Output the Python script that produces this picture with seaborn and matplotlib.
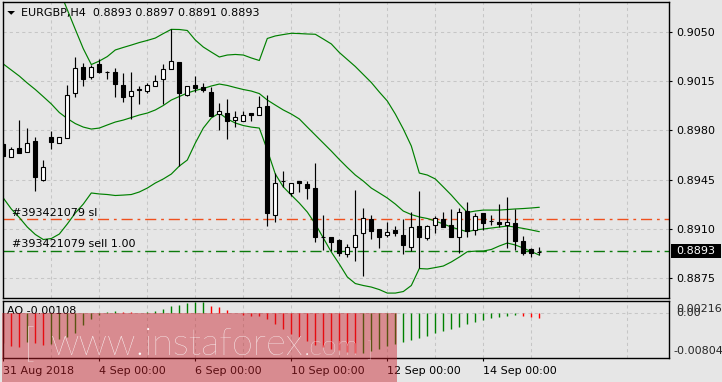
import numpy as np
import pandas as pd
import matplotlib
matplotlib.use("Agg")
import matplotlib.pyplot as plt
import seaborn as sns
from matplotlib.patches import Rectangle, Polygon

# ---------------- data ----------------
open_ = [0.89703, 0.89613, 0.89672, 0.89644, 0.89722, 0.89447, 0.89751, 0.89713, 0.89744, 0.90065,
         0.90250, 0.90184, 0.90272, 0.90215, 0.90219, 0.90122, 0.90046, 0.90093, 0.90084, 0.90115,
         0.90165, 0.90241, 0.90288, 0.90050, 0.90122, 0.90112, 0.90074, 0.89917, 0.89922, 0.89872,
         0.89870, 0.89922, 0.89913, 0.89974, 0.89194, 0.89437, 0.89351, 0.89437, 0.89418, 0.89387,
         0.89038, 0.89042, 0.89019, 0.88919, 0.88966, 0.89066, 0.89166, 0.89095, 0.89052, 0.89090,
         0.89054, 0.88971, 0.89118, 0.89035, 0.89128, 0.89166, 0.89126, 0.89038, 0.89223, 0.89092,
         0.89211, 0.89152, 0.89147, 0.89123, 0.89140, 0.89012, 0.88952, 0.88930]
high = [0.89713, 0.89684, 0.89874, 0.89815, 0.89751, 0.89589, 0.89796, 0.89756, 0.90124, 0.90326,
        0.90279, 0.90267, 0.90307, 0.90226, 0.90243, 0.90207, 0.90219, 0.90117, 0.90136, 0.90195,
        0.90274, 0.90521, 0.90288, 0.90115, 0.90188, 0.90141, 0.90112, 0.89998, 0.90024, 0.89941,
        0.89941, 0.89924, 0.90046, 0.90053, 0.89494, 0.89511, 0.89423, 0.89440, 0.89437, 0.89565,
        0.89197, 0.89042, 0.89023, 0.88990, 0.89375, 0.89247, 0.89197, 0.89095, 0.89147, 0.89118,
        0.89166, 0.89221, 0.89368, 0.89126, 0.89190, 0.89218, 0.89237, 0.89247, 0.89292, 0.89209,
        0.89211, 0.89194, 0.89275, 0.89323, 0.89237, 0.89050, 0.88964, 0.88970]
low = [0.89613, 0.89613, 0.89637, 0.89644, 0.89370, 0.89442, 0.89670, 0.89708, 0.89744, 0.90041,
       0.90119, 0.90169, 0.90212, 0.90165, 0.90041, 0.90005, 0.89884, 0.89986, 0.90065, 0.90115,
       0.89989, 0.90236, 0.89549, 0.90046, 0.90077, 0.90072, 0.89903, 0.89803, 0.89737, 0.89822,
       0.89870, 0.89870, 0.89908, 0.89121, 0.89149, 0.89399, 0.89332, 0.89363, 0.89313, 0.89007,
       0.88947, 0.88942, 0.88904, 0.88900, 0.88871, 0.88764, 0.89023, 0.88964, 0.89042, 0.89047,
       0.88919, 0.88938, 0.88816, 0.89019, 0.89071, 0.89114, 0.89042, 0.88923, 0.89042, 0.89052,
       0.89090, 0.89123, 0.89114, 0.88959, 0.88947, 0.88912, 0.88895, 0.88910]
close = [0.89618, 0.89665, 0.89637, 0.89713, 0.89466, 0.89537, 0.89720, 0.89751, 0.90050, 0.90243,
         0.90169, 0.90250, 0.90217, 0.90214, 0.90134, 0.90041, 0.90084, 0.90092, 0.90122, 0.90150,
         0.90236, 0.90293, 0.90065, 0.90115, 0.90103, 0.90086, 0.89903, 0.89936, 0.89865, 0.89893,
         0.89908, 0.89910, 0.89965, 0.89209, 0.89423, 0.89436, 0.89423, 0.89423, 0.89392, 0.89042,
         0.89037, 0.89007, 0.88923, 0.88971, 0.89052, 0.89173, 0.89085, 0.89042, 0.89073, 0.89066,
         0.88985, 0.89109, 0.89042, 0.89116, 0.89173, 0.89114, 0.89042, 0.89216, 0.89085, 0.89187,
         0.89142, 0.89151, 0.89135, 0.89147, 0.89014, 0.88923, 0.88923, 0.88930]

bb_upper = [0.91408, 0.91372, 0.91337, 0.91265, 0.91194, 0.91087, 0.90944, 0.90802, 0.90661, 0.90521,
            0.90383, 0.90270, 0.90295, 0.90327, 0.90374, 0.90392, 0.90409, 0.90427, 0.90442, 0.90459,
            0.90491, 0.90521, 0.90520, 0.90513, 0.90445, 0.90395, 0.90359, 0.90324, 0.90338, 0.90342,
            0.90338, 0.90317, 0.90299, 0.90456, 0.90474, 0.90484, 0.90493, 0.90491, 0.90488, 0.90486,
            0.90452, 0.90417, 0.90356, 0.90306, 0.90256, 0.90199, 0.90142, 0.90074, 0.90010, 0.89917,
            0.89810, 0.89689, 0.89496, 0.89482, 0.89454, 0.89397, 0.89339, 0.89275, 0.89215, 0.89225,
            0.89232, 0.89232, 0.89232, 0.89236, 0.89240, 0.89243, 0.89247, 0.89252]
bb_middle = [0.90274, 0.90231, 0.90188, 0.90138, 0.90092, 0.90041, 0.89989, 0.89928, 0.89885, 0.89849,
             0.89824, 0.89810, 0.89817, 0.89839, 0.89860, 0.89874, 0.89892, 0.89910, 0.89924, 0.89946,
             0.89978, 0.90017, 0.90042, 0.90067, 0.90085, 0.90099, 0.90117, 0.90131, 0.90121, 0.90106,
             0.90092, 0.90081, 0.90063, 0.90017, 0.89981, 0.89946, 0.89917, 0.89882, 0.89824, 0.89767,
             0.89710, 0.89653, 0.89593, 0.89536, 0.89482, 0.89439, 0.89389, 0.89354, 0.89318, 0.89275,
             0.89225, 0.89200, 0.89183, 0.89172, 0.89154, 0.89133, 0.89111, 0.89093, 0.89078, 0.89090,
             0.89097, 0.89104, 0.89111, 0.89118, 0.89111, 0.89101, 0.89090, 0.89078]
bb_lower = [0.89318, 0.89240, 0.89179, 0.89111, 0.89058, 0.89022, 0.89029, 0.89061, 0.89133, 0.89211,
            0.89275, 0.89354, 0.89347, 0.89343, 0.89336, 0.89339, 0.89343, 0.89361, 0.89389, 0.89425,
            0.89454, 0.89489, 0.89546, 0.89589, 0.89710, 0.89817, 0.89889, 0.89924, 0.89882, 0.89853,
            0.89835, 0.89824, 0.89817, 0.89660, 0.89489, 0.89397, 0.89339, 0.89282, 0.89218, 0.89133,
            0.89033, 0.88933, 0.88847, 0.88755, 0.88708, 0.88694, 0.88683, 0.88665, 0.88640, 0.88640,
            0.88651, 0.88694, 0.88815, 0.88812, 0.88822, 0.88833, 0.88862, 0.88897, 0.88935, 0.88939,
            0.88940, 0.88951, 0.88976, 0.88997, 0.88983, 0.88961, 0.88936, 0.88911]

ao_values = [-0.0060, -0.0066, -0.0067, -0.0058, -0.0060, -0.0064, -0.0061, -0.0052, -0.0048, -0.0041,
             -0.0024, -0.0013, -0.0004, 0.0002, 0.0003, 0.0002, 0.0001, 0.00005, 0.0001, 0.0004,
             0.0008, 0.0014, 0.0016, 0.0019, 0.0021, 0.00216, 0.0013, 0.0012, 0.0006, -0.0001,
             -0.0004, -0.0006, -0.0007, -0.0013, -0.0023, -0.0032, -0.0042, -0.0049, -0.0056, -0.0063,
             -0.0068, -0.0071, -0.0074, -0.0077, -0.00804, -0.0079, -0.0076, -0.0071, -0.0066, -0.0061,
             -0.0058, -0.0054, -0.0051, -0.0046, -0.0041, -0.0036, -0.0032, -0.0028, -0.0023, -0.0019,
             -0.0015, -0.0011, -0.0008, -0.0006, -0.0004, -0.0006, -0.0008, -0.00108]

time_labels = ["31 Aug 2018", "4 Sep 00:00", "6 Sep 00:00", "10 Sep 00:00", "12 Sep 00:00", "14 Sep 00:00"]
time_label_bars = [0, 12, 24, 36, 48, 60]
price_ticks = [0.9050, 0.9015, 0.8980, 0.8945, 0.8910, 0.8875]
ao_axis_labels = ["0.00216", "0.00", "-0.00804"]
sl_price = 0.89166
sell_price = 0.88940
bid_price = 0.8893
title_text = "EURGBP,H4  0.8893 0.8897 0.8891 0.8893"
ao_text = "AO -0.00108"
sl_text = "#393421079 sl"
sell_text = "#393421079 sell 1.00"

# ---------------- style ----------------
sns.set_theme(style="white")
plt.rcParams["font.family"] = ["DejaVu Sans"]
BG = "#E6E6E6"
GRID = "#C6C6C6"
W, H = 722, 382
FS = 8

fig = plt.figure(figsize=(W / 100, H / 100), dpi=100, facecolor=BG)


def fx(px):
    return px / W


def fy(py):
    return 1 - py / H


ax = fig.add_axes([fx(2.7), fy(298), fx(669) - fx(2.7), fy(1.7) - fy(298)])
ax2 = fig.add_axes([fx(2.7), fy(358), fx(669) - fx(2.7), fy(300.7) - fy(358)])

n = len(close)
bars = np.arange(n)
XL = (-0.075, 83.21)

# ---------------- main panel ----------------
ax.set_facecolor(BG)
ax.set_xlim(*XL)
ax.set_ylim(0.886049, 0.907183)
for s in ax.spines.values():
    s.set_color("black")
    s.set_linewidth(1.0)
ax.set_xticks(range(0, 84, 6))
ax.tick_params(axis="x", bottom=False, labelbottom=False)
ax.yaxis.tick_right()
ax.set_yticks(price_ticks)
ax.set_yticklabels([f"{p:.4f}" for p in price_ticks])
ax.tick_params(axis="y", right=True, direction="out", length=2.4, width=0.8,
               pad=3.0, labelsize=FS, colors="black")
ax.grid(True, color=GRID, linestyle=(0, (3, 3)), linewidth=0.75)
ax.set_axisbelow(True)

band_df = pd.DataFrame({"bar": bars, "upper": bb_upper, "middle": bb_middle, "lower": bb_lower})
for col in ["upper", "middle", "lower"]:
    sns.lineplot(data=band_df, x="bar", y=col, ax=ax, color="#008000", linewidth=0.85,
                 zorder=2, legend=False)
ax.set_xlabel("")
ax.set_ylabel("")

o = np.array(open_)
c = np.array(close)
ax.vlines(bars, low, high, color="black", linewidth=0.85, zorder=3)
body_bottom = np.minimum(o, c)
body_h = np.maximum(np.abs(c - o), 1e-7)
faces = ["black" if cc < oo else "white" for oo, cc in zip(o, c)]
ax.bar(bars, body_h, bottom=body_bottom, width=0.5, color=faces, edgecolor="black",
       linewidth=0.8, zorder=4)

ax.axhline(sl_price, color="#F0501E", linewidth=1.0, linestyle=(0, (8, 3.5, 2, 3.5)), zorder=1.5)
ax.axhline(sell_price, color="#0C7A0C", linewidth=1.0, linestyle=(0, (8, 3.5, 2, 3.5)), zorder=1.5)

# ---------------- AO panel ----------------
ax2.set_facecolor(BG)
ax2.set_xlim(*XL)
ax2.set_ylim(-0.00897, 0.00240)
for s in ax2.spines.values():
    s.set_color("black")
    s.set_linewidth(1.0)
ax2.set_yticks([])
ax2.set_xticks(time_label_bars)
ax2.set_xticklabels(time_labels)
ax2.set_xticks(range(6, 84, 12), minor=True)
ax2.tick_params(axis="x", which="major", bottom=True, direction="out", length=2.4, width=0.8,
                pad=3.5, labelsize=FS, colors="black")
ax2.tick_params(axis="x", which="minor", bottom=True, length=0)
for lab in ax2.get_xticklabels():
    lab.set_ha("left")
ax2.grid(True, axis="x", which="both", color=GRID, linestyle=(0, (3, 3)), linewidth=0.75)
ax2.axhline(0, color=GRID, linestyle=(0, (3, 3)), linewidth=0.75, zorder=0.5)
ax2.set_axisbelow(True)

ao_colors = ["#FF0000"] + ["#008000" if ao_values[i] > ao_values[i - 1] else "#FF0000"
                            for i in range(1, n)]
ax2.vlines(bars, 0, ao_values, colors=ao_colors, linewidth=1.0, zorder=2)

# ---------------- texts ----------------
fig.add_artist(Polygon([[fx(7.3), fy(11)], [fx(15), fy(11)], [fx(11.2), fy(14.8)]],
                       closed=True, transform=fig.transFigure, facecolor="black",
                       edgecolor="none", zorder=5))
fig.text(fx(20.7), fy(12.7), title_text, fontsize=FS, va="center", ha="left", color="black")
fig.text(fx(11.7), fy(212.7), sl_text, fontsize=FS, va="center", ha="left", color="black")
fig.text(fx(11.7), fy(244.3), sell_text, fontsize=FS, va="center", ha="left", color="black")
fig.text(fx(7.3), fy(310.7), ao_text, fontsize=FS, va="center", ha="left", color="black", zorder=5)

# bid price box
fig.add_artist(Rectangle((fx(670.5), fy(257.7)), fx(721) - fx(670.5), fy(244.3) - fy(257.7),
                         transform=fig.transFigure, facecolor="black", edgecolor="none", zorder=5))
fig.text(fx(676.7), fy(251.2), f"{bid_price:.4f}", fontsize=FS, va="center", ha="left",
         color="white", zorder=6)

# AO scale labels
fig.text(fx(676.0), fy(309.3), ao_axis_labels[0], fontsize=FS, va="center", ha="left")
fig.text(fx(676.0), fy(312.9), ao_axis_labels[1], fontsize=FS, va="center", ha="left")
fig.text(fx(673.3), fy(351.0), ao_axis_labels[2], fontsize=FS, va="center", ha="left")

# ---------------- watermark ----------------
fig.add_artist(Rectangle((fx(2.3), 0), fx(397) - fx(2.3), fy(312.9), transform=fig.transFigure,
                         facecolor="#C81E28", alpha=0.45, edgecolor="none", zorder=10))

wm_font = ["Lato", "DejaVu Sans"]
t_main = fig.text(fx(50.6), fy(355), "www.instaforex", fontsize=25, color="white",
                  family=wm_font, fontweight="light", ha="left", va="baseline", zorder=11)
t_com = fig.text(fx(304), fy(355), ".com", fontsize=18, color="white",
                 family=wm_font, fontweight="light", ha="left", va="baseline", zorder=11)
t_lb = fig.text(fx(24), fy(357), "[", fontsize=28, color="white",
                family=wm_font, fontweight="light", ha="left", va="baseline", zorder=11)
t_rb = fig.text(fx(366), fy(357), "]", fontsize=15, color="white",
                family=wm_font, fontweight="light", ha="left", va="baseline", zorder=11)

fig.canvas.draw()
r = fig.canvas.get_renderer()
for t, target in [(t_main, 253.0), (t_com, 55.0)]:
    w = t.get_window_extent(r).width
    if w > 0:
        t.set_fontsize(t.get_fontsize() * target / w)

fig.savefig("out.png", dpi=100, facecolor=BG)
